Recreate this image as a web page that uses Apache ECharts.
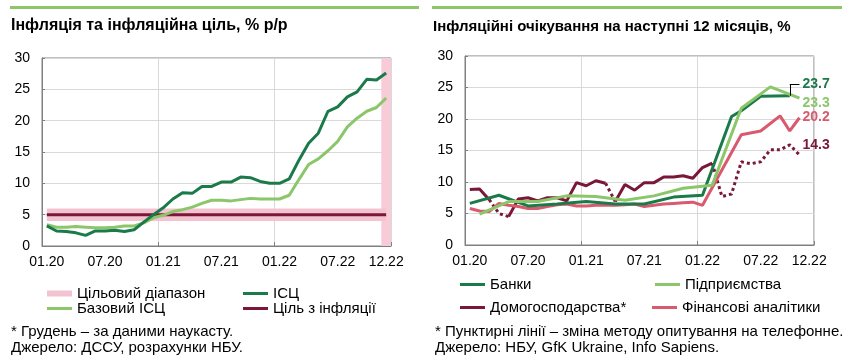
<!DOCTYPE html>
<html><head><meta charset="utf-8">
<script src="https://cdn.jsdelivr.net/npm/echarts@6/dist/echarts.min.js"></script>
<style>html,body{margin:0;padding:0;background:#fff}#c{width:850px;height:362px}</style>
</head><body><div id="c"></div>
<script>
// ---------- DATA ----------
const months = ['01.20','02.20','03.20','04.20','05.20','06.20','07.20','08.20','09.20','10.20','11.20','12.20',
  '01.21','02.21','03.21','04.21','05.21','06.21','07.21','08.21','09.21','10.21','11.21','12.21',
  '01.22','02.22','03.22','04.22','05.22','06.22','07.22','08.22','09.22','10.22','11.22','12.22'];
const yTicks = [0,5,10,15,20,25,30];
// Left chart: CPI and core CPI, % y/y
const cpi  = [3.2,2.4,2.3,2.1,1.7,2.4,2.4,2.5,2.3,2.6,3.8,5.0, 6.1,7.5,8.5,8.4,9.5,9.5,10.2,10.2,11.0,10.9,10.3,10.0, 10.0,10.7,13.7,16.4,18.0,21.5,22.2,23.8,24.6,26.6,26.5,27.6];
const core = [3.4,3.0,3.0,3.1,3.0,2.9,2.9,3.0,3.2,3.2,3.7,4.5, 4.9,5.5,5.8,6.2,6.8,7.3,7.3,7.2,7.4,7.6,7.5,7.5, 7.5,8.1,10.6,13.0,13.9,15.2,16.7,19.0,20.4,21.5,22.1,23.6];
const target = months.map(() => 5);
const targetLow = months.map(() => 4);
const targetHigh = months.map(() => 6);
const nowcastMonths = ['12.22'];
// Right chart: inflation expectations for next 12 months, %
const banks = [6.6,null,null,7.9,null,null,6.2,null,null,6.5,null,null, 6.9,null,null,6.5,null,null,6.5,null,null,7.6,null,null, 7.9,null,null,20.4,21.3,null,23.6,null,null,23.7,null,null];
const business = [null,4.9,null,null,6.9,null,null,6.9,null,null,7.8,null, null,7.7,null,null,7.1,null,null,7.8,null,null,9.0,null, null,9.5,null,null,21.7,null,null,25.1,null,null,23.3,null];
const analysts = [5.8,5.4,5.3,6.6,6.3,6.1,5.8,5.8,6.1,6.4,6.5,6.2, 6.2,6.3,6.3,6.3,6.4,6.5,6.1,6.3,6.5,6.6,6.7,6.8, 6.3,null,null,null,17.5,null,18.1,null,20.5,18.1,20.2,null];
const households = [8.8,8.9,7.2,5.0,4.5,7.3,7.5,7.0,7.5,7.5,7.0,9.9, 9.4,10.2,9.8,6.9,9.6,8.7,9.9,9.9,10.8,10.8,11.0,10.6, 12.3,13.0,7.7,8.1,13.2,12.9,13.2,15.1,15.1,15.9,14.3,null];
const householdsPhoneRanges = [[2,4],[14,15],[25,34]]; // dotted parts (phone survey)

// ---------- STYLE ----------
const FONT = 'Liberation Sans, Arial, sans-serif';
const C = {dg:'#1b7a4a', lg:'#8cc66b', mar:'#7a1838', pink:'#d95a6e', band:'#f4c3d1', now:'#f7cbd8', grid:'#d9d9d9', axis:'#808080'};

const yMax = yTicks[yTicks.length-1];
function xAxisCfg(gi){
  return {type:'category', gridIndex:gi, data:months, boundaryGap:true,
    axisLine:{lineStyle:{color:C.axis}},
    axisTick:{show:true, inside:true, length:4, interval:(i)=>i%12===0, lineStyle:{color:C.axis}},
    axisLabel:{interval:(i)=> i%6===0 || i===months.length-1, color:'#000', fontSize:14, fontFamily:FONT, margin:9},
    splitLine:{show:true, interval:(i)=>i%12===0, lineStyle:{color:C.grid}}};
}
function yAxisCfg(gi){
  return {type:'value', gridIndex:gi, min:yTicks[0], max:yMax, interval:yTicks[1]-yTicks[0],
    axisLine:{show:true, lineStyle:{color:C.axis}},
    axisTick:{show:true, inside:true, length:3, lineStyle:{color:C.axis}},
    axisLabel:{color:'#000', fontSize:14, fontFamily:FONT, margin:12},
    splitLine:{show:true, lineStyle:{color:C.grid}}};
}
const lineBase = {type:'line', symbol:'none', showSymbol:false, silent:true, animation:false};

// households split into solid and dotted series
function maskRange(a,b){ return households.map((v,i)=> (i>=a && i<=b) ? v : null); }
const lastIdx = households.reduce((m,v,i)=> v!=null ? i : m, 0);
const solidRanges = [];
let start = 0;
householdsPhoneRanges.forEach(r => { if (r[0] > start) solidRanges.push([start, r[0]]); start = r[1]; });
if (start < lastIdx) solidRanges.push([start, lastIdx]);
const hhSeries = [];
solidRanges.forEach(r => hhSeries.push(Object.assign({}, lineBase, {name:'Домогосподарства*', xAxisIndex:1, yAxisIndex:1,
  data:maskRange(r[0], r[1]), lineStyle:{color:C.mar, width:3}, itemStyle:{color:C.mar}})));
householdsPhoneRanges.forEach((r,k) => {
  const isLast = r[1] === lastIdx;
  hhSeries.push(Object.assign({}, lineBase, {name:'Домогосподарства (тел.)', xAxisIndex:1, yAxisIndex:1,
    data:maskRange(r[0], r[1]), lineStyle:{color:C.mar, width:3, type:[3,3]}, itemStyle:{color:C.mar},
    endLabel: isLast ? {show:true, formatter:(p)=>p.value.toFixed(1), color:C.mar, fontWeight:'bold', fontSize:14, fontFamily:FONT, distance:3, offset:[0,-10]} : {show:false}}));
});
const banksLastI = banks.reduce((m,v,i)=> v!=null ? i : m, 0);
const banksLast = banks[banksLastI];

const legendText = {color:'#000', fontSize:15, fontFamily:FONT};
function leg(name, left, top, color, h){
  return {show:true, left, top, padding:0, itemWidth:25, itemHeight:h||3, itemGap:0, textStyle:legendText,
    selectedMode:false, data:[{name, icon:'rect', itemStyle:{color, borderWidth:0}, lineStyle:{width:0, opacity:0}}]};
}
function txt(text, left, top, bold, size){
  return {text, left, top, padding:0, textStyle:{color:'#000', fontSize:size, fontWeight:bold?'bold':'normal', fontFamily:FONT}};
}

const option = {
  animation:false,
  backgroundColor:'#fff',
  title:[
    txt('Інфляція та інфляційна ціль, % р/р', 11, 18, true, 16),
    txt('Інфляційні очікування на наступні 12 місяців, %', 433, 19, true, 15),
    txt('* Грудень – за даними наукасту.', 11, 324, false, 15),
    txt('Джерело: ДССУ, розрахунки НБУ.', 11, 340, false, 15),
    txt('* Пунктирні лінії – зміна методу опитування на телефонне.', 435, 324, false, 15),
    txt('Джерело: НБУ, GfK Ukraine, Info Sapiens.', 435, 340, false, 15)
  ],
  graphic:[
    {type:'rect', shape:{x:10, y:6, width:409, height:3}, style:{fill:C.lg}, silent:true},
    {type:'rect', shape:{x:432, y:6, width:410, height:3}, style:{fill:C.lg}, silent:true}
  ],
  legend:[
    leg('Цільовий діапазон', 47, 286, C.band, 6),
    leg('ІСЦ', 243, 286, C.dg),
    leg('Базовий ІСЦ', 47, 301, C.lg),
    leg('Ціль з інфляції', 243, 301, C.mar),
    leg('Банки', 460, 277, C.dg),
    leg('Підприємства', 655, 277, C.lg),
    leg('Домогосподарства*', 460, 300, C.mar),
    leg('Фінансові аналітики', 652, 300, C.pink)
  ],
  grid:[
    {left:42, top:58, width:349, height:188, show:true, borderColor:C.axis, borderWidth:1, containLabel:false},
    {left:465, top:56, width:349, height:189, show:true, borderColor:C.axis, borderWidth:1, containLabel:false}
  ],
  xAxis:[xAxisCfg(0), xAxisCfg(1)],
  yAxis:[yAxisCfg(0), yAxisCfg(1)],
  series:[
    {type:'bar', name:'nowcast', xAxisIndex:0, yAxisIndex:0, silent:true, barWidth:'100%', z:1,
      data:months.map(m => nowcastMonths.includes(m) ? yMax : null), itemStyle:{color:C.now}},
    Object.assign({}, lineBase, {name:'bandBase', xAxisIndex:0, yAxisIndex:0, stack:'band', data:targetLow, lineStyle:{opacity:0, width:0}, z:2}),
    Object.assign({}, lineBase, {name:'Цільовий діапазон', xAxisIndex:0, yAxisIndex:0, stack:'band',
      data:targetHigh.map((v,i)=> v - targetLow[i]), lineStyle:{width:0, opacity:0}, areaStyle:{color:C.band, opacity:1}, itemStyle:{color:C.band}, z:2}),
    Object.assign({}, lineBase, {name:'Ціль з інфляції', xAxisIndex:0, yAxisIndex:0, data:target, lineStyle:{color:C.mar, width:3}, itemStyle:{color:C.mar}, z:3}),
    Object.assign({}, lineBase, {name:'Базовий ІСЦ', xAxisIndex:0, yAxisIndex:0, data:core, lineStyle:{color:C.lg, width:3}, itemStyle:{color:C.lg}, z:4}),
    Object.assign({}, lineBase, {name:'ІСЦ', xAxisIndex:0, yAxisIndex:0, data:cpi, lineStyle:{color:C.dg, width:3}, itemStyle:{color:C.dg}, z:5}),
    ...hhSeries,
    Object.assign({}, lineBase, {name:'Фінансові аналітики', xAxisIndex:1, yAxisIndex:1, data:analysts, connectNulls:true,
      lineStyle:{color:C.pink, width:3}, itemStyle:{color:C.pink},
      endLabel:{show:true, formatter:(p)=>p.value.toFixed(1), color:C.pink, fontWeight:'bold', fontSize:14, fontFamily:FONT, distance:3, offset:[0,-1]}}),
    Object.assign({}, lineBase, {name:'Банки', xAxisIndex:1, yAxisIndex:1, data:banks, connectNulls:true,
      lineStyle:{color:C.dg, width:3}, itemStyle:{color:C.dg},
      markLine:{silent:true, symbol:'none', animation:false, lineStyle:{color:'#000', width:1, type:'solid'},
        label:{show:false},
        data:[
          [{coord:[months[banksLastI], banksLast]}, {coord:[months[banksLastI], 25.5]}],
          [{coord:[months[banksLastI], 25.5]}, {coord:[months[banksLastI+1], 25.5],
            label:{show:true, position:'end', distance:3, formatter:banksLast.toFixed(1), color:C.dg, fontWeight:'bold', fontSize:14, fontFamily:FONT}}]
        ]}}),
    Object.assign({}, lineBase, {name:'Підприємства', xAxisIndex:1, yAxisIndex:1, data:business, connectNulls:true,
      lineStyle:{color:C.lg, width:3}, itemStyle:{color:C.lg},
      endLabel:{show:true, formatter:(p)=>p.value.toFixed(1), color:C.lg, fontWeight:'bold', fontSize:14, fontFamily:FONT, distance:3, offset:[0,5]}})
  ]
};
const chart = echarts.init(document.getElementById('c'), null, {renderer:'canvas'});
chart.setOption(option);
</script></body></html>
